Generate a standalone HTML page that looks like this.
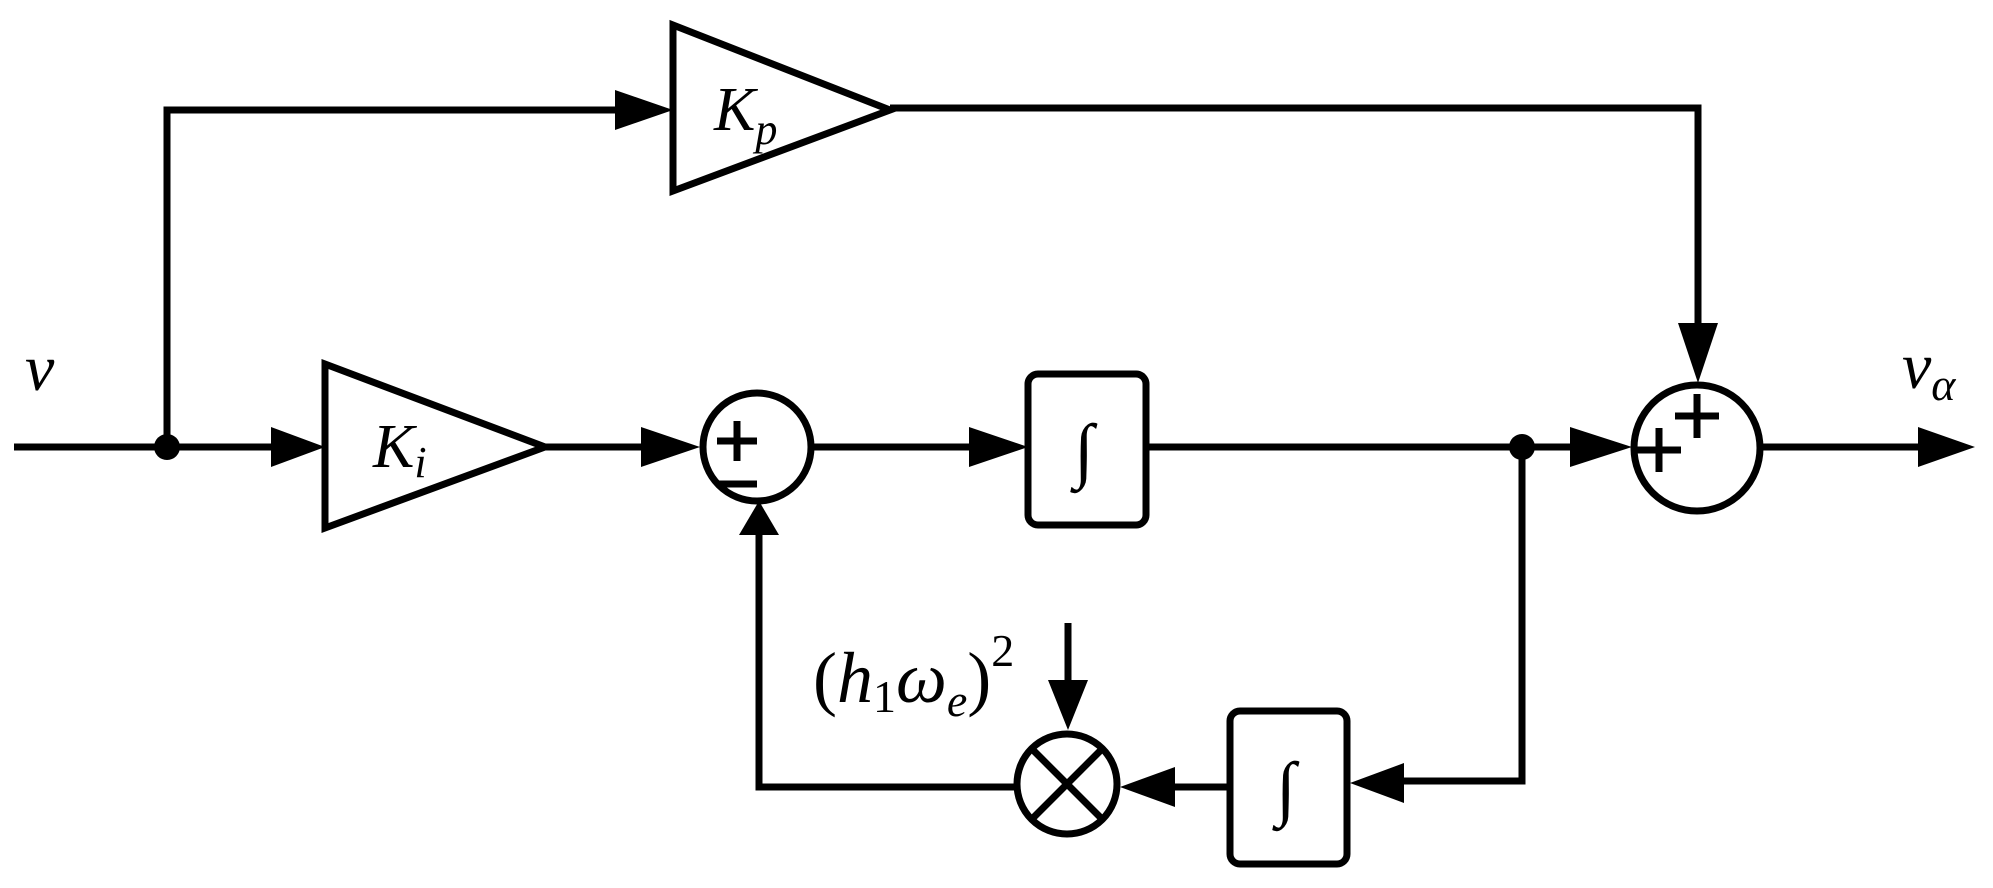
<!DOCTYPE html>
<html><head><meta charset="utf-8"><style>html,body{margin:0;padding:0;background:#fff}svg{display:block}
.t{font-family:"Liberation Serif","DejaVu Serif",serif;}</style></head><body>
<svg width="1993" height="888" viewBox="0 0 1993 888" xmlns="http://www.w3.org/2000/svg">
<g stroke="#000" stroke-width="7" fill="none" stroke-linejoin="miter">
<line x1="14" y1="447" x2="280" y2="447"/>
<polyline points="167,447 167,110 620,110"/>
<polygon points="673,25 890,110 673,191" fill="#fff"/>
<polyline points="890,108 1698,108 1698,330"/>
<polygon points="325,364 545,447 325,528" fill="#fff"/>
<line x1="545" y1="447" x2="650" y2="447"/>
<circle cx="757" cy="447" r="54" fill="#fff"/>
<line x1="811" y1="447" x2="980" y2="447"/>
<rect x="1028" y="374" width="118" height="151" rx="10" fill="#fff"/>
<line x1="1146" y1="447" x2="1580" y2="447"/>
<polyline points="1522,447 1522,781 1400,781"/>
<circle cx="1697" cy="448" r="63" fill="#fff"/>
<line x1="1760" y1="447" x2="1925" y2="447"/>
<rect x="1230" y="711" width="117" height="153" rx="10" fill="#fff"/>
<line x1="1230" y1="787" x2="1170" y2="787"/>
<circle cx="1067" cy="784" r="50" fill="#fff"/>
<line x1="1032" y1="749" x2="1102" y2="819"/>
<line x1="1102" y1="749" x2="1032" y2="819"/>
<polyline points="1017,787 759,787 759,530"/>
<line x1="1068" y1="623" x2="1068" y2="685"/>
<line x1="717" y1="441" x2="757" y2="441"/>
<line x1="737" y1="421" x2="737" y2="461"/>
<line x1="719" y1="484" x2="757" y2="484"/>
<line x1="1637" y1="450" x2="1681" y2="450"/>
<line x1="1659" y1="428" x2="1659" y2="472"/>
<line x1="1675" y1="416" x2="1719" y2="416"/>
<line x1="1697" y1="394" x2="1697" y2="438"/>
</g>
<circle cx="167" cy="447" r="13" fill="#000"/>
<circle cx="1522" cy="447" r="13" fill="#000"/>
<g fill="#000">
<polygon points="615,90 673,110 615,130"/>
<polygon points="271,427 325,447 271,467"/>
<polygon points="641,427 700,447 641,467"/>
<polygon points="969,427 1028,447 969,467"/>
<polygon points="1570,427 1632,447 1570,467"/>
<polygon points="1918,427 1975,447 1918,467"/>
<polygon points="1678,323 1698,383 1718,323"/>
<polygon points="1404,763 1350,783 1404,803"/>
<polygon points="1175,767 1120,787 1175,807"/>
<polygon points="739,535 759,501 779,535"/>
<polygon points="1048,680 1068,730 1088,680"/>
</g>
<g class="t" fill="#000">
<text x="25" y="390" font-size="66" font-style="italic">v</text>
<text x="714" y="130" font-size="62" font-style="italic">K<tspan font-size="44" dy="14">p</tspan></text>
<text x="373" y="467" font-size="62" font-style="italic">K<tspan font-size="44" dy="10">i</tspan></text>
<text x="1902" y="388" font-size="66" font-style="italic">v<tspan font-size="46" dy="12">α</tspan></text>
<text x="1074" y="474" font-size="72">∫</text>
<text x="1276" y="812" font-size="72">∫</text>
<text x="813" y="702" font-size="72">(<tspan font-style="italic">h</tspan><tspan font-size="46" dy="10">1</tspan><tspan font-style="italic" dy="-10">ω</tspan><tspan font-style="italic" font-size="46" dy="14">e</tspan><tspan dy="-14">)</tspan><tspan font-size="46" dy="-36">2</tspan></text>
</g>
</svg>
</body></html>
